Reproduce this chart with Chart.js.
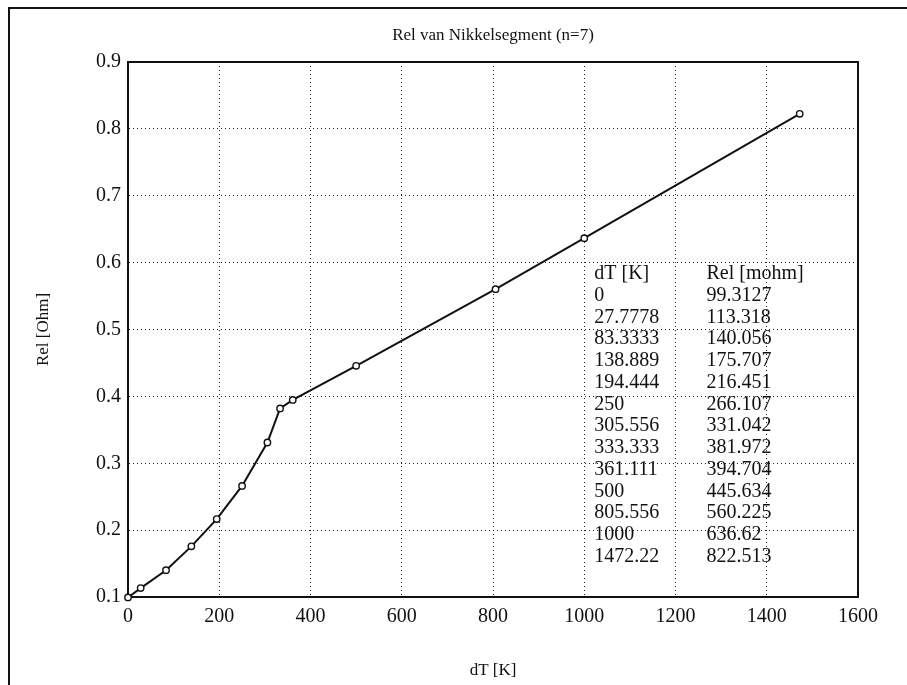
<!DOCTYPE html>
<html>
<head>
<meta charset="utf-8">
<script src="https://cdn.jsdelivr.net/npm/chart.js@4.4.1/dist/chart.umd.min.js"></script>
<style>
  html, body { margin: 0; padding: 0; background: #fff; }
  #wrap { position: relative; width: 907px; height: 685px; }
  #frame { position: absolute; left: 8px; top: 7px; right: 0; bottom: 0;
           border-left: 2px solid #111; border-top: 2px solid #111; pointer-events: none; }
</style>
</head>
<body>
<div id="wrap">
  <canvas id="relChart" width="907" height="685"></canvas>
  <div id="frame"></div>
</div>
<script>
// meetpunten: temperatuurverschil en weerstand (mohm)
const dT = [0, 27.7778, 83.3333, 138.889, 194.444, 250, 305.556, 333.333, 361.111, 500, 805.556, 1000, 1472.22];
const relMohm = [99.3127, 113.318, 140.056, 175.707, 216.451, 266.107, 331.042, 381.972, 394.704, 445.634, 560.225, 636.62, 822.513];
const xTicks = [0, 200, 400, 600, 800, 1000, 1200, 1400, 1600];
const yTicks = [0.1, 0.2, 0.3, 0.4, 0.5, 0.6, 0.7, 0.8, 0.9];
const tableHeader = ["dT [K]", "Rel [mohm]"];

const FONT = "'Liberation Serif', 'DejaVu Serif', serif";
const points = dT.map((t, i) => ({ x: t, y: relMohm[i] / 1000 }));

// tabel met waarden in de grafiek, verankerd aan de schalen
const tablePlugin = {
    id: "valueTable",
    afterDatasetsDraw(chart) {
        const { ctx, scales: { x, y } } = chart;
        const col1 = x.getPixelForValue(1022);
        const col2 = x.getPixelForValue(1268);
        const top = y.getPixelForValue(0.583);
        const step = y.getPixelForValue(0.583 - 0.0325) - top;
        const rows = [tableHeader].concat(dT.map((t, i) => [String(t), String(relMohm[i])]));
        ctx.save();
        ctx.fillStyle = "#111";
        ctx.font = "20px " + FONT;
        ctx.textBaseline = "middle";
        ctx.textAlign = "left";
        rows.forEach((r, i) => {
            ctx.fillText(r[0], col1, top + i * step);
            ctx.fillText(r[1], col2, top + i * step);
        });
        ctx.restore();
    }
};

const ctx = document.getElementById("relChart").getContext("2d");
new Chart(ctx, {
    type: "scatter",
    data: {
        datasets: [{
            data: points,
            showLine: true,
            borderColor: "#111",
            borderWidth: 2,
            pointRadius: 3.2,
            pointBackgroundColor: "#fff",
            pointBorderColor: "#111",
            pointBorderWidth: 1.4,
            clip: false
        }]
    },
    options: {
        responsive: false,
        animation: false,
        layout: { padding: { left: 10, top: 10, right: 0, bottom: 0 } },
        plugins: { legend: { display: false }, tooltip: { enabled: false } },
        scales: {
            x: {
                type: "linear", position: "bottom", min: 0, max: 1600,
                afterBuildTicks: s => { s.ticks = xTicks.map(v => ({ value: v })); },
                afterFit: s => { s.height = 88; },
                grid: { color: "#222", lineWidth: 1, drawTicks: false },
                border: { color: "#111", width: 2, dash: [1, 3] },
                ticks: { color: "#111", padding: 8, font: { family: FONT, size: 20 },
                         callback: v => String(v) },
                title: { display: true, text: "dT [K]", color: "#111",
                         font: { family: FONT, size: 17 }, padding: { top: 0, bottom: 4 } }
            },
            x2: {
                type: "linear", position: "top", min: 0, max: 1600,
                afterFit: s => { s.height = 52; },
                grid: { display: false },
                border: { color: "#111", width: 2 },
                ticks: { display: false },
                title: { display: true, text: "Rel van Nikkelsegment (n=7)", color: "#111",
                         font: { family: FONT, size: 17 }, padding: { top: 15, bottom: 0 } }
            },
            y: {
                type: "linear", position: "left", min: 0.1, max: 0.9,
                afterBuildTicks: s => { s.ticks = yTicks.map(v => ({ value: v })); },
                afterFit: s => { s.width = 118; },
                grid: { color: "#222", lineWidth: 1, drawTicks: false },
                border: { color: "#111", width: 2, dash: [1, 3] },
                ticks: { color: "#111", padding: 7, font: { family: FONT, size: 20 },
                         callback: v => v.toFixed(1) },
                title: { display: true, text: "Rel [Ohm]", color: "#111",
                         font: { family: FONT, size: 17 }, padding: { top: 23, bottom: 0 } }
            },
            y2: {
                type: "linear", position: "right", min: 0.1, max: 0.9,
                afterFit: s => { s.width = 49; },
                grid: { display: false },
                border: { color: "#111", width: 2 },
                ticks: { display: false }
            }
        }
    },
    plugins: [tablePlugin]
});
</script>
</body>
</html>
